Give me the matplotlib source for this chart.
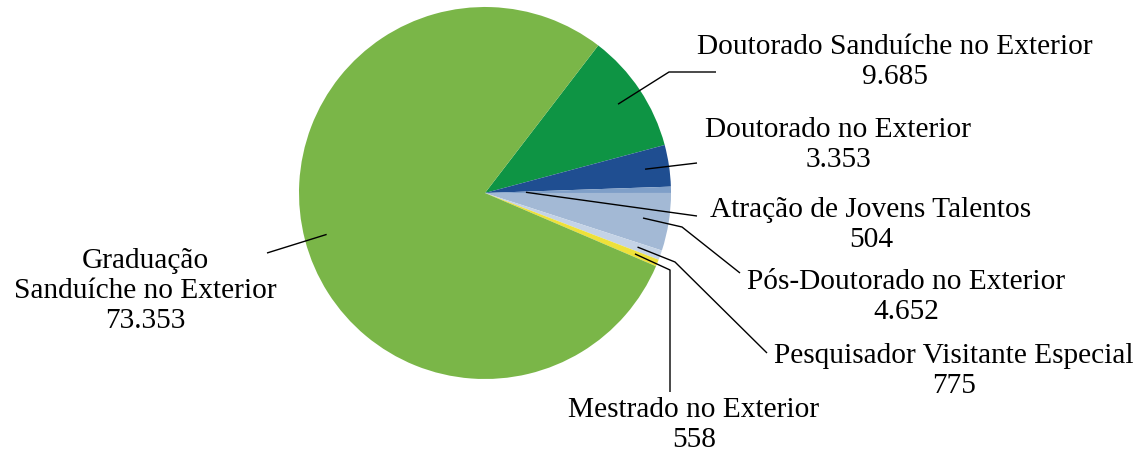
import numpy as np
import matplotlib
matplotlib.use("Agg")
import matplotlib.pyplot as plt

# ---- data ----
categories = [
    "Doutorado Sanduíche no Exterior",
    "Doutorado no Exterior",
    "Atração de Jovens Talentos",
    "Pós-Doutorado no Exterior",
    "Pesquisador Visitante Especial",
    "Mestrado no Exterior",
    "Graduação\nSanduíche no Exterior",
]
values = [9685, 3353, 504, 4652, 775, 558, 73353]
value_labels = ["9.685", "3.353", "504", "4.652", "775", "558", "73.353"]
colors = ["#0E9444", "#1F4E91", "#7F9FC8", "#A3B9D5", "#C4D3E6", "#EEE13A", "#7AB648"]

# ---- layout (pixel coordinates, y measured from top) ----
W, H = 1147, 454
center_px = (485, 193)
radius_px = 186
label_xy = [(895, 62), (838, 145), (871, 225), (906, 297), (954, 371), (694, 425), (145, 291)]
leader_start_frac = [0.86, 0.87, 0.22, 0.86, 0.87, 0.87, 0.88]
leader_path = [
    [(669, 72), (716, 72)],
    [(697, 163)],
    [(697, 216)],
    [(682, 227), (740, 273)],
    [(675, 262), (767, 353)],
    [(670, 270), (670, 392)],
    [(267, 253)],
]

plt.rcParams["font.family"] = ["Liberation Serif", "DejaVu Serif"]

fig = plt.figure(figsize=(W / 100, H / 100), dpi=100)
ax = fig.add_axes([0, 0, 1, 1])

cx, cy = center_px[0], H - center_px[1]
wedges, _ = ax.pie(values, colors=colors, startangle=52.5, counterclock=False,
                   radius=radius_px, center=(cx, cy),
                   wedgeprops=dict(linewidth=0, antialiased=True))
ax.set_xlim(0, W)
ax.set_ylim(0, H)
ax.set_aspect("equal")
ax.axis("off")

for i, w in enumerate(wedges):
    mid = np.deg2rad((w.theta1 + w.theta2) / 2)
    r = leader_start_frac[i] * radius_px
    xs = [cx + r * np.cos(mid)] + [p[0] for p in leader_path[i]]
    ys = [cy + r * np.sin(mid)] + [H - p[1] for p in leader_path[i]]
    ax.plot(xs, ys, color="black", lw=1.0, solid_capstyle="butt")
    lx, ly = label_xy[i]
    ax.text(lx, H - ly, categories[i] + "\n" + value_labels[i], ha="center", va="center",
            multialignment="center", fontsize=21.2, color="black", linespacing=1.18)

fig.savefig("out.png", dpi=100)
